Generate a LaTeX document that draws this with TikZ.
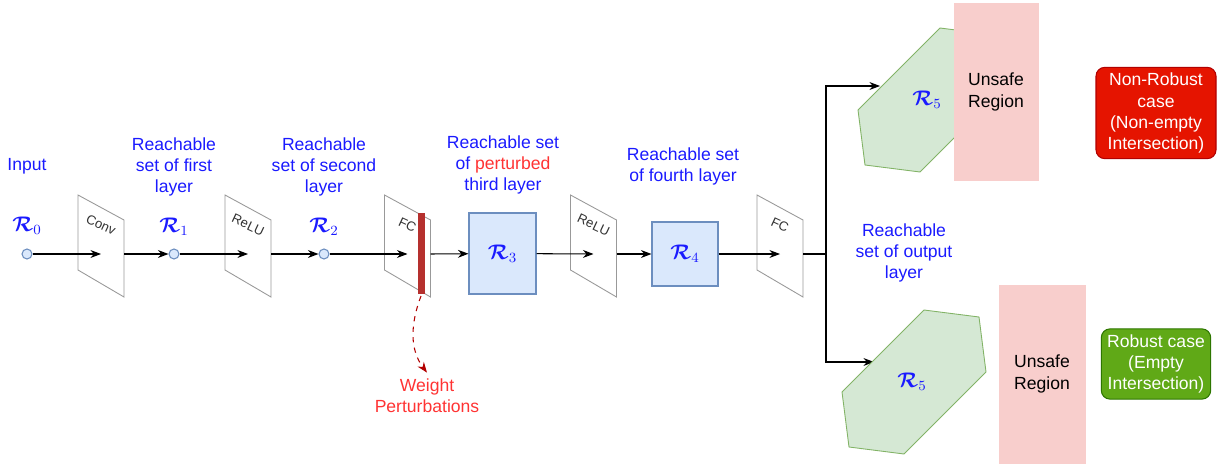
\documentclass[tikz,border=0pt]{standalone}
\usepackage{bm}
\usepackage{fontspec}
\setmainfont{Liberation Sans}
\usetikzlibrary{arrows.meta, calc, positioning}
\definecolor{setfill}{HTML}{DAE8FC}
\definecolor{setdraw}{HTML}{6C8EBF}
\definecolor{hexfill}{HTML}{D5E8D4}
\definecolor{hexdraw}{HTML}{82B366}
\definecolor{unsafefill}{HTML}{F8CECC}
\definecolor{labelblue}{HTML}{1A1AFF}
\definecolor{pertred}{HTML}{FF3333}
\definecolor{barred}{HTML}{B5302E}
\definecolor{darkred}{HTML}{B20000}
\tikzset{
  bluetext/.style={font=\fontsize{10}{12}\selectfont, text=labelblue, align=center},
  blacktext/.style={font=\fontsize{10}{12}\selectfont, align=center},
  setname/.style={font=\large, text=labelblue},
  planeline/.style={draw=black!40, fill=white, line width=0.5pt},
  planetext/.style={font=\fontsize{7.5}{8}\selectfont, text=black!80, inner sep=0pt},
  setdot/.style={circle, draw=setdraw, fill=setfill, minimum size=0.2cm, inner sep=0pt},
  setbox/.style={draw=setdraw, fill=setfill, line width=0.6pt, minimum width=1.34cm, minimum height=1.62cm},
  casebox/.style={rounded corners=5pt, text=white, align=center, font=\fontsize{10}{12}\selectfont, line width=0.6pt}
}
\newcommand{\setR}[1]{$\bm{\mathcal{R}}_{#1}$}
% one slanted layer plane: name, centre x, label
\newcommand{\layerplane}[3]{%
  \draw[planeline] (#2-23,195) -- (#2+23,220) -- (#2+23,297) -- (#2-23,270) -- cycle;
  \coordinate (#1) at (#2,254);
  \coordinate (#1-out) at (#2+23,254);
  \node[planetext, rotate=-25] at (#2,225) {#3};
}
\begin{document}
\begin{tikzpicture}[x=0.02cm, y=-0.02cm, >={Stealth[length=6pt,width=4.5pt]}, line width=0.6pt]
  \useasboundingbox (0,0) rectangle (1217,466);

  % layers
  \layerplane{conv}{101}{Conv}
  \layerplane{reluA}{248}{ReLU}
  \layerplane{fcA}{407.5}{FC}
  \layerplane{reluB}{593.5}{ReLU}
  \layerplane{fcB}{780}{FC}
  \fill[barred] (418,213) rectangle (425,294);
  \coordinate (fcbar) at (421,296);

  % reachable sets
  \node[setdot] (r0) at (27,254) {};
  \node[setdot] (r1) at (174,254) {};
  \node[setdot] (r2) at (324,254) {};
  \node[setbox, setname] (r3) at (502.5,253.5) {\setR{3}};
  \node[setbox, setname, minimum width=1.32cm, minimum height=1.28cm] (r4) at (685,254) {\setR{4}};
  \node[setname] at (27,226) {\setR{0}};
  \node[setname] at (174,227) {\setR{1}};
  \node[setname] at (324,227) {\setR{2}};

  \node[bluetext] (in) at (27,166) {Input};
  \node[bluetext] (l1) at (174,167) {Reachable\\set of first\\layer};
  \node[bluetext] (l2) at (324,167) {Reachable\\set of second\\layer};
  \node[bluetext] (l3) at (503,165) {Reachable set\\of \textcolor{pertred}{perturbed}\\third layer};
  \node[bluetext] (l4) at (683,166) {Reachable set\\of fourth layer};
  \node[bluetext] (l5) at (904,253) {Reachable\\set of output\\layer};

  % main path
  \draw[->] (r0) -- (conv);
  \draw[->] (conv-out) -- (r1);
  \draw[->] (r1) -- (reluA);
  \draw[->] (reluA-out) -- (r2);
  \draw[->] (r2) -- (fcA);
  \draw[->] (fcA-out) -- (r3);
  \draw[->] (r3) -- (reluB);
  \draw[->] (reluB-out) -- (r4);
  \draw[->] (r4) -- (fcB);
  \coordinate (split) at (826,254);
  \coordinate (topin) at (880,86);
  \coordinate (botin) at (874,362);
  \draw (fcB-out) -- (split);
  \draw[->] (split) |- (topin);
  \draw[->] (split) |- (botin);

  % output sets and unsafe regions
  \draw[draw=hexdraw, fill=hexfill, line width=0.5pt]
    (940,28) -- (995,35) -- (1002,90) -- (920,172) -- (865,165) -- (858,110) -- cycle;
  \fill[unsafefill] (954,3) rectangle (1039,181);
  \node[blacktext] (unsafeA) at (996,92) {Unsafe\\Region};
  \node[setname] at (927,100) {\setR{5}};

  \draw[draw=hexdraw, fill=hexfill, line width=0.5pt]
    (924,310) -- (979,317) -- (986,372) -- (904,454) -- (849,447) -- (842,392) -- cycle;
  \fill[unsafefill] (999,285) rectangle (1086,464);
  \node[blacktext] (unsafeB) at (1042,374) {Unsafe\\Region};
  \node[setname] at (912,382) {\setR{5}};

  % verdicts
  \node[casebox, draw=darkred, fill={rgb,255:red,229;green,20;blue,0}, minimum width=2.4cm, minimum height=1.8cm] (nonrob) at (1156,113) {Non-Robust\\case\\(Non-empty\\Intersection)};
  \node[casebox, draw={rgb,255:red,45;green,118;blue,0}, fill={rgb,255:red,96;green,169;blue,23}, minimum width=2.16cm, minimum height=1.36cm] (rob) at (1156,364) {Robust case\\(Empty\\Intersection)};

  % weight perturbations
  \node[bluetext, text=pertred] (wp) at (427,396) {Weight\\Perturbations};
  \draw[->, dashed, darkred] (fcbar) .. controls (410,325) and (410,350) .. (wp.north);
\end{tikzpicture}
\end{document}
